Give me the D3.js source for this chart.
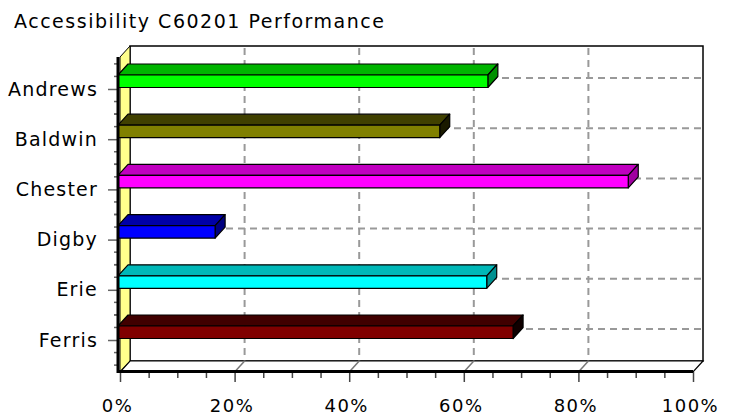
<!DOCTYPE html>
<html><head><meta charset="utf-8">
<script src="https://cdn.jsdelivr.net/npm/d3@7"></script>
<style>body{margin:0;background:#fff;}svg{display:block;}</style>
</head><body>
<svg id="chart" width="729" height="419"></svg>
<script>
const title = "Accessibility C60201 Performance";
const categories = ["Andrews", "Baldwin", "Chester", "Digby", "Erie", "Ferris"];
const values = [64.2, 55.8, 88.7, 16.6, 64.0, 68.6];
const xTicks = [0, 20, 40, 60, 80, 100];
const frontColors = ["#00ff00", "#808000", "#ff00ff", "#0000ff", "#00ffff", "#800000"];
const topColors   = ["#00b400", "#404000", "#c000c0", "#0000a8", "#00b8b8", "#400000"];
const endColors   = ["#009000", "#1a1a00", "#a000a0", "#000080", "#009090", "#100000"];

(function () {
const svg = d3.select("#chart");
const DX = 10, DY = 11;
const pL = 120, pR = 693, pT = 57, pB = 372;

const x = d3.scaleLinear().domain([0, 100]).range([pL, pR]);
const y = d3.scalePoint().domain(categories).range([pT, pB]).padding(0.637);
const step = y.step();

// title
svg.append("text").attr("x", 14).attr("y", 28)
  .attr("font-family", "DejaVu Sans").attr("font-size", 19)
  .attr("textLength", 370).attr("lengthAdjust", "spacing")
  .text(title);

// back wall
svg.append("rect").attr("x", pL + DX).attr("y", pT - DY)
  .attr("width", pR - pL).attr("height", pB - pT)
  .attr("fill", "#fff").attr("stroke", "#000").attr("stroke-width", 1.5);

// back wall gridlines
const grid = svg.append("g").attr("stroke", "#999").attr("stroke-width", 2).attr("stroke-dasharray", "7,5");
xTicks.filter(d => d > 0 && d < 100).forEach(d => {
  grid.append("line").attr("x1", x(d) + DX).attr("x2", x(d) + DX)
    .attr("y1", pT - DY + 2).attr("y2", pB - DY);
});
categories.forEach(c => {
  grid.append("line").attr("x1", pL + DX).attr("x2", pR + DX)
    .attr("y1", y(c) - DY).attr("y2", y(c) - DY);
});

// left wall
svg.append("path")
  .attr("d", `M${pL},${pT}L${pL + DX},${pT - DY}L${pL + DX},${pB - DY}L${pL},${pB}Z`)
  .attr("fill", "#ffff8c").attr("stroke", "#000").attr("stroke-width", 1);

// floor
svg.append("path")
  .attr("d", `M${pL},${pB}L${pL + DX},${pB - DY}L${pR + DX},${pB - DY}L${pR},${pB}Z`)
  .attr("fill", "#fff").attr("stroke", "#000").attr("stroke-width", 1.2);
xTicks.filter(d => d > 0 && d < 100).forEach(d => {
  svg.append("line").attr("x1", x(d)).attr("y1", pB)
    .attr("x2", x(d) + DX).attr("y2", pB - DY)
    .attr("stroke", "#777").attr("stroke-width", 1.5);
});

// bars
const bars = svg.append("g").attr("stroke", "#000").attr("stroke-width", 1.2).attr("stroke-linejoin", "round");
categories.forEach((c, i) => {
  const x0 = x(0) - 2, x1 = x(values[i]);
  const yt = y(c) - 14, yb = y(c) - 1.5;
  bars.append("path")
    .attr("d", `M${x0},${yt}L${x0 + DX},${yt - DY}L${x1 + DX},${yt - DY}L${x1},${yt}Z`)
    .attr("fill", topColors[i]);
  bars.append("path")
    .attr("d", `M${x1},${yt}L${x1 + DX},${yt - DY}L${x1 + DX},${yb - DY}L${x1},${yb}Z`)
    .attr("fill", endColors[i]);
  bars.append("rect").attr("x", x0).attr("y", yt)
    .attr("width", x1 - x0).attr("height", yb - yt)
    .attr("fill", frontColors[i]);
});

// y axis
const yAxis = svg.append("g").attr("transform", `translate(${pL - 2},0)`)
  .call(d3.axisLeft(y).tickSize(10).tickPadding(10));
yAxis.select(".domain").remove();
yAxis.selectAll(".tick line").attr("stroke", "#666").attr("stroke-width", 1.5);
yAxis.selectAll(".tick text").attr("font-family", "DejaVu Sans").attr("font-size", 19)
  .attr("letter-spacing", 1.2).attr("fill", "#000");
// minor y ticks
const minorY = [];
categories.forEach(c => { [-2, -1, 1, 2].forEach(k => minorY.push(y(c) + k * step / 4)); });
svg.append("g").selectAll("line").data(minorY.filter(v => v > pT && v < pB)).join("line")
  .attr("x1", pL - 6).attr("x2", pL - 2).attr("y1", d => d).attr("y2", d => d)
  .attr("stroke", "#666").attr("stroke-width", 1.5);
svg.append("line").attr("x1", pL - 2).attr("x2", pL - 2).attr("y1", pT).attr("y2", pB + 1)
  .attr("stroke", "#000").attr("stroke-width", 3);

// x axis
const xAxis = svg.append("g").attr("transform", `translate(0,${pB})`)
  .call(d3.axisBottom(x).tickValues(xTicks).tickSize(10).tickPadding(17).tickFormat(d => d + "%"));
xAxis.select(".domain").remove();
xAxis.selectAll(".tick line").attr("stroke", "#444").attr("stroke-width", 1.5);
xAxis.selectAll(".tick text").attr("font-family", "DejaVu Sans").attr("font-size", 18)
  .attr("letter-spacing", 1.5).attr("fill", "#000").attr("dx", -3);
const xMinor = svg.append("g").attr("transform", `translate(0,${pB})`)
  .call(d3.axisBottom(x).tickValues(d3.range(0, 101, 5).filter(d => d % 20 !== 0)).tickSize(6).tickFormat(""));
xMinor.select(".domain").remove();
xMinor.selectAll(".tick line").attr("stroke", "#444").attr("stroke-width", 1.5);
svg.append("line").attr("x1", pL - 3).attr("x2", pR).attr("y1", pB - 0.5).attr("y2", pB - 0.5)
  .attr("stroke", "#000").attr("stroke-width", 3);
})();
</script>
</body></html>
